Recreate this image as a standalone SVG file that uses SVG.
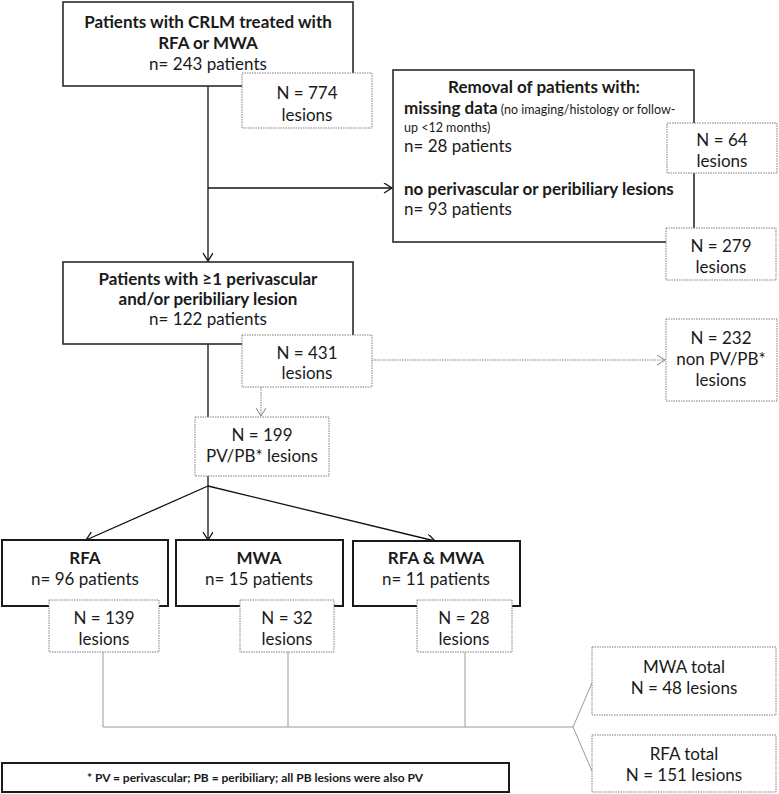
<svg xmlns="http://www.w3.org/2000/svg" width="779" height="794" viewBox="0 0 779 794">
<style>
text{font-family:Lato,"Liberation Sans",sans-serif;fill:#1a1a1a;font-size:17px}
.c{text-anchor:middle}
.b{font-weight:bold}
.sm{font-size:12.5px}
.fn{font-size:12px;font-weight:bold}
.box{fill:#fff;stroke:#2a2a2a;stroke-width:1.6}
.box2{fill:#fff;stroke:#1a1a1a;stroke-width:2}
.dot{fill:#fff;stroke:#808080;stroke-width:1;stroke-dasharray:1.5 1}
.ln{fill:none;stroke:#111;stroke-width:1.3}
.dl{fill:none;stroke:#808080;stroke-width:1;stroke-dasharray:1.5 1}
.gl{fill:none;stroke:#9a9a9a;stroke-width:1}
</style>
<defs>
<marker id="ah" markerUnits="userSpaceOnUse" markerWidth="12" markerHeight="12" refX="9" refY="5" orient="auto">
<path d="M1,0 L9,5 L1,10" fill="none" stroke="#111" stroke-width="1.3"/>
</marker>
<marker id="ahg" markerUnits="userSpaceOnUse" markerWidth="12" markerHeight="12" refX="9" refY="5" orient="auto">
<path d="M1,0 L9,5 L1,10" fill="none" stroke="#808080" stroke-width="1"/>
</marker>
</defs>

<g id="connectors">
<path class="ln" d="M208,86 V261" marker-end="url(#ah)"/>
<path class="ln" d="M208,188 H392" marker-end="url(#ah)"/>
<path class="ln" d="M208,344 V417"/>
<path class="dl" d="M261,387 V416" marker-end="url(#ahg)"/>
<path class="dl" d="M372,360 H665" marker-end="url(#ahg)"/>
<path class="ln" d="M208,476 V486"/>
<path class="ln" d="M208,486 L86,540" marker-end="url(#ah)"/>
<path class="ln" d="M208,486 V540" marker-end="url(#ah)"/>
<path class="ln" d="M208,486 L435,541" marker-end="url(#ah)"/>
<path class="gl" d="M103,652 V727 H573 M288,652 V727 M465,652 V727 M573,727 L592,683 M573,727 L592,771"/>
</g>

<g id="n-start">
<rect class="box" x="63" y="2" width="290" height="84"/>
<text class="c b" x="208" y="28">Patients with CRLM treated with</text>
<text class="c b" x="208" y="49">RFA or MWA</text>
<text class="c" x="208" y="70">n= 243 patients</text>
</g>
<g id="n-774">
<rect class="dot" x="242" y="73" width="130" height="55"/>
<text class="c" x="307" y="99">N = 774</text>
<text class="c" x="307" y="121">lesions</text>
</g>

<g id="n-removal">
<rect class="box" x="393" y="70" width="301" height="172"/>
<text class="c b" x="544" y="93">Removal of patients with:</text>
<text x="404" y="114"><tspan class="b">missing data</tspan><tspan class="sm"> (no imaging/histology or follow-</tspan></text>
<text class="sm" x="404" y="132">up &lt;12 months)</text>
<text x="404" y="152">n= 28 patients</text>
<text class="b" x="404" y="195">no perivascular or peribiliary lesions</text>
<text x="404" y="215">n= 93 patients</text>
</g>
<g id="n-64">
<rect class="dot" x="667" y="123" width="110" height="50"/>
<text class="c" x="722" y="146">N = 64</text>
<text class="c" x="722" y="167">lesions</text>
</g>
<g id="n-279">
<rect class="dot" x="666" y="228" width="110" height="52"/>
<text class="c" x="721" y="252">N = 279</text>
<text class="c" x="721" y="273">lesions</text>
</g>

<g id="n-pv">
<rect class="box" x="63" y="262" width="290" height="82"/>
<text class="c b" x="208" y="285">Patients with ≥1 perivascular</text>
<text class="c b" x="208" y="305">and/or peribiliary lesion</text>
<text class="c" x="208" y="325">n= 122 patients</text>
</g>
<g id="n-431">
<rect class="dot" x="242" y="335" width="130" height="52"/>
<text class="c" x="307" y="359">N = 431</text>
<text class="c" x="307" y="379">lesions</text>
</g>
<g id="n-232">
<rect class="dot" x="666" y="319" width="111" height="82"/>
<text class="c" x="721" y="344">N = 232</text>
<text class="c" x="721" y="365">non PV/PB*</text>
<text class="c" x="721" y="386">lesions</text>
</g>
<g id="n-199">
<rect class="dot" x="195" y="417" width="134" height="59"/>
<text class="c" x="262" y="441">N = 199</text>
<text class="c" x="262" y="462">PV/PB* lesions</text>
</g>

<g id="n-rfa">
<rect class="box2" x="2" y="540" width="166" height="66"/>
<text class="c b" x="85" y="564">RFA</text>
<text class="c" x="85" y="585">n= 96 patients</text>
</g>
<g id="n-mwa">
<rect class="box2" x="176" y="540" width="167" height="66"/>
<text class="c b" x="259" y="564">MWA</text>
<text class="c" x="259" y="585">n= 15 patients</text>
</g>
<g id="n-both">
<rect class="box2" x="353" y="541" width="167" height="65"/>
<text class="c b" x="436" y="564">RFA &amp; MWA</text>
<text class="c" x="436" y="585">n= 11 patients</text>
</g>
<g id="n-139">
<rect class="dot" x="49" y="600" width="110" height="52"/>
<text class="c" x="104" y="624">N = 139</text>
<text class="c" x="104" y="645">lesions</text>
</g>
<g id="n-32">
<rect class="dot" x="240" y="600" width="94" height="52"/>
<text class="c" x="287" y="624">N = 32</text>
<text class="c" x="287" y="645">lesions</text>
</g>
<g id="n-28">
<rect class="dot" x="417" y="600" width="95" height="52"/>
<text class="c" x="464" y="624">N = 28</text>
<text class="c" x="464" y="645">lesions</text>
</g>
<g id="n-mwatotal">
<rect class="dot" x="592" y="647" width="184" height="68"/>
<text class="c" x="684" y="673">MWA total</text>
<text class="c" x="684" y="694">N = 48 lesions</text>
</g>
<g id="n-rfatotal">
<rect class="dot" x="592" y="735" width="184" height="57"/>
<text class="c" x="684" y="760">RFA total</text>
<text class="c" x="684" y="781">N = 151 lesions</text>
</g>
<g id="n-footnote">
<rect class="box2" x="2" y="763" width="507" height="29"/>
<text class="c fn" x="255" y="782">* PV = perivascular; PB = peribiliary; all PB lesions were also PV</text>
</g>
</svg>
